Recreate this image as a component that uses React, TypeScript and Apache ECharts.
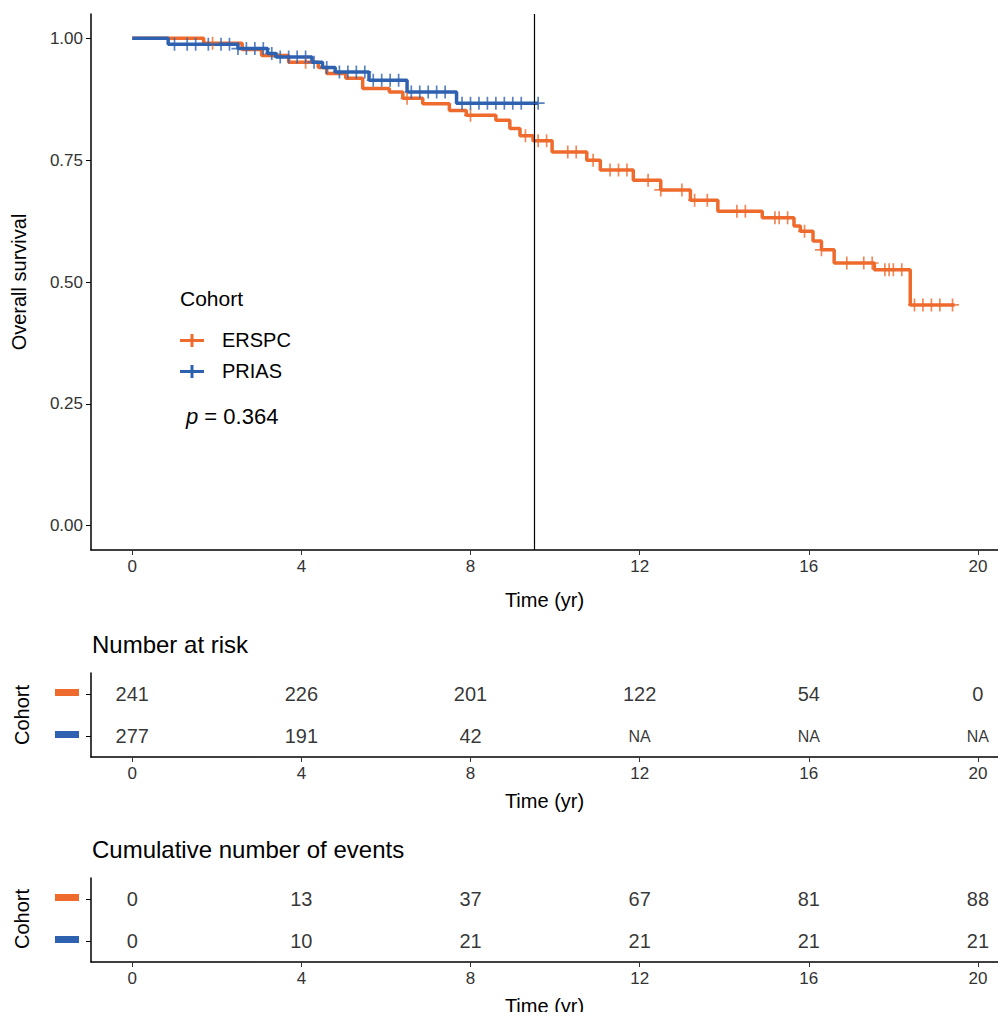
import React, { useEffect, useRef } from "react";
import * as echarts from "echarts";

const ersTimes = [0, 1.69, 2.6, 3.06, 3.7, 4.4, 4.6, 5.05, 5.45, 6.08, 6.4, 6.87, 7.5, 7.9, 8.6, 8.93, 9.17, 9.48, 9.93, 10.75, 11.07, 11.85, 12.5, 13.2, 13.85, 14.9, 15.65, 15.8, 16.1, 16.3, 16.6, 17.55, 18.4, 19.45];
const ersSurv = [1.0, 0.99, 0.977, 0.965, 0.951, 0.94, 0.928, 0.918, 0.897, 0.89, 0.877, 0.866, 0.852, 0.842, 0.832, 0.815, 0.80, 0.79, 0.767, 0.75, 0.73, 0.709, 0.689, 0.668, 0.645, 0.632, 0.615, 0.604, 0.584, 0.566, 0.539, 0.525, 0.453, 0.453];
const priTimes = [0, 0.85, 2.5, 3.2, 3.4, 4.25, 4.5, 4.8, 5.6, 6.5, 7.67, 9.6];
const priSurv = [1.0, 0.988, 0.979, 0.969, 0.962, 0.951, 0.94, 0.931, 0.914, 0.89, 0.867, 0.867];
const ersCens = [1.9, 4.1, 6.5, 8.0, 9.3, 9.6, 9.8, 10.3, 10.5, 10.9, 11.3, 11.5, 11.7, 12.2, 12.5, 13.0, 13.3, 13.6, 14.3, 14.5, 15.2, 15.3, 15.5, 15.9, 16.3, 16.9, 17.3, 17.5, 17.8, 17.9, 18.0, 18.2, 18.5, 18.7, 18.9, 19.1, 19.4];
const priCens = [1.0, 1.3, 1.5, 1.8, 2.1, 2.3, 2.5, 2.7, 2.9, 3.1, 3.3, 3.5, 3.7, 3.9, 4.1, 4.3, 4.6, 4.9, 5.1, 5.3, 5.5, 5.7, 5.9, 6.1, 6.3, 6.6, 6.8, 7.0, 7.2, 7.4, 7.8, 8.0, 8.2, 8.4, 8.6, 8.8, 9.0, 9.2, 9.6];
const tableTicks = [0, 4, 8, 12, 16, 20];
const riskERSPC = ["241", "226", "201", "122", "54", "0"];
const riskPRIAS = ["277", "191", "42", "NA", "NA", "NA"];
const eventsERSPC = ["0", "13", "37", "67", "81", "88"];
const eventsPRIAS = ["0", "10", "21", "21", "21", "21"];
const pText = "0.364";

const ORANGE = "#EE6A2D";
const BLUE = "#2E62B0";
const FONT = "Liberation Sans";
const PLUS = "path://M-1,-0.13 L-0.13,-0.13 L-0.13,-1 L0.13,-1 L0.13,-0.13 L1,-0.13 L1,0.13 L0.13,0.13 L0.13,1 L-0.13,1 L-0.13,0.13 L-1,0.13 Z";

function survAt(times: number[], surv: number[], t: number) {
  let v = surv[0];
  for (let i = 0; i < times.length; i++) if (times[i] <= t) v = surv[i];
  return v;
}

export default function App() {
  const ref = useRef<HTMLDivElement>(null);
  useEffect(() => {
    const chart = echarts.init(ref.current!, null, { renderer: "svg" });
    const axisLabel = { color: "#333", fontSize: 17, fontFamily: FONT };
    const xs = [0, 1, 2].map((g) => ({
      type: "value", gridIndex: g, min: -0.975, max: 20.475,
      splitLine: { show: false },
      axisLine: { show: true, onZero: false, lineStyle: { color: "#000", width: 1.5 } },
      axisTick: { show: true, length: 5, customValues: tableTicks, lineStyle: { color: "#333" } },
      axisLabel: { ...axisLabel, margin: 8, customValues: tableTicks },
      name: "Time (yr)", nameLocation: "middle", nameGap: g === 0 ? 40 : 34,
      nameTextStyle: { fontSize: 20, fontFamily: FONT, color: "#000" },
    }));
    const tableSeries = (gi: number, top: string[], bottom: string[]) => [
      { arr: top, y: 1.5 }, { arr: bottom, y: 0.5 },
    ].map((r) => ({
      type: "scatter", xAxisIndex: gi, yAxisIndex: gi, symbolSize: 0,
      data: tableTicks.map((t, i) => ({
        value: [t, r.y],
        label: { show: true, formatter: r.arr[i], fontSize: r.arr[i] === "NA" ? 16 : 20, fontFamily: FONT, color: "#000" },
      })),
    }));
    chart.setOption({
      animation: false,
      grid: [
        { left: 91, top: 14, width: 907, height: 536 },
        { left: 91, top: 673, width: 907, height: 84 },
        { left: 91, top: 878, width: 907, height: 84 },
      ],
      xAxis: xs,
      yAxis: [
        {
          type: "value", gridIndex: 0, min: -0.05, max: 1.05,
          splitLine: { show: false },
          axisLine: { show: true, onZero: false, lineStyle: { color: "#000", width: 1.5 } },
          axisTick: { show: true, length: 5, customValues: [0, 0.25, 0.5, 0.75, 1] },
          axisLabel: { ...axisLabel, customValues: [0, 0.25, 0.5, 0.75, 1], formatter: (v: number) => v.toFixed(2) },
          name: "Overall survival", nameLocation: "middle", nameGap: 62,
          nameTextStyle: { fontSize: 20, fontFamily: FONT, color: "#000" },
        },
        ...[1, 2].map((g) => ({
          type: "value", gridIndex: g, min: 0, max: 2,
          splitLine: { show: false }, axisLabel: { show: false },
          axisTick: { show: true, length: 5, customValues: [0.5, 1.5] },
          axisLine: { show: true, onZero: false, lineStyle: { color: "#000", width: 1.5 } },
        })),
      ],
      series: [
        { type: "line", step: "end", data: ersTimes.map((t, i) => [t, ersSurv[i]]), showSymbol: false, lineStyle: { color: ORANGE, width: 3.5 }, z: 2,
          markLine: { silent: true, symbol: "none", label: { show: false }, lineStyle: { color: "#000", width: 1.2, type: "solid" }, data: [{ xAxis: 9.5 }] } },
        { type: "line", step: "end", data: priTimes.map((t, i) => [t, priSurv[i]]), showSymbol: false, lineStyle: { color: BLUE, width: 3.5 }, z: 3 },
        { type: "scatter", symbol: PLUS, symbolSize: 13, itemStyle: { color: ORANGE }, z: 4,
          data: ersCens.map((t) => [t, survAt(ersTimes, ersSurv, t)]) },
        { type: "scatter", symbol: PLUS, symbolSize: 13, itemStyle: { color: BLUE }, z: 5,
          data: priCens.map((t) => [t, survAt(priTimes, priSurv, t)]) },
        ...tableSeries(1, riskERSPC, riskPRIAS),
        ...tableSeries(2, eventsERSPC, eventsPRIAS),
      ],
      graphic: [
        { type: "text", left: 180, top: 288, style: { text: "Cohort", fontSize: 21, fontFamily: FONT, fill: "#000" } },
        { type: "rect", shape: { x: 180, y: 339, width: 24, height: 3 }, style: { fill: ORANGE } },
        { type: "rect", shape: { x: 190.5, y: 334, width: 3, height: 13 }, style: { fill: ORANGE } },
        { type: "text", left: 222, top: 330, style: { text: "ERSPC", fontSize: 20, fontFamily: FONT, fill: "#000" } },
        { type: "rect", shape: { x: 180, y: 370, width: 24, height: 3 }, style: { fill: BLUE } },
        { type: "rect", shape: { x: 190.5, y: 365, width: 3, height: 13 }, style: { fill: BLUE } },
        { type: "text", left: 222, top: 361, style: { text: "PRIAS", fontSize: 20, fontFamily: FONT, fill: "#000" } },
        { type: "text", left: 186, top: 405, style: { text: "{i|p} = " + pText, rich: { i: { fontStyle: "italic", fontSize: 22, fontFamily: FONT } }, fontSize: 22, fontFamily: FONT, fill: "#000" } },
        { type: "text", left: 92, top: 632, style: { text: "Number at risk", fontSize: 24, fontFamily: FONT, fill: "#000" } },
        { type: "text", left: 92, top: 837, style: { text: "Cumulative number of events", fontSize: 24, fontFamily: FONT, fill: "#000" } },
        { type: "text", x: 22, y: 715, rotation: Math.PI / 2, style: { text: "Cohort", fontSize: 20, fontFamily: FONT, fill: "#000", align: "center", verticalAlign: "middle" } },
        { type: "text", x: 22, y: 919, rotation: Math.PI / 2, style: { text: "Cohort", fontSize: 20, fontFamily: FONT, fill: "#000", align: "center", verticalAlign: "middle" } },
        { type: "rect", shape: { x: 55, y: 689, width: 24, height: 7 }, style: { fill: ORANGE } },
        { type: "rect", shape: { x: 55, y: 731, width: 24, height: 7 }, style: { fill: BLUE } },
        { type: "rect", shape: { x: 55, y: 894, width: 24, height: 7 }, style: { fill: ORANGE } },
        { type: "rect", shape: { x: 55, y: 936, width: 24, height: 7 }, style: { fill: BLUE } },
      ],
    });
    return () => chart.dispose();
  }, []);
  return <div ref={ref} style={{ width: 1006, height: 1020, margin: -8, background: "#fff" }} />;
}
